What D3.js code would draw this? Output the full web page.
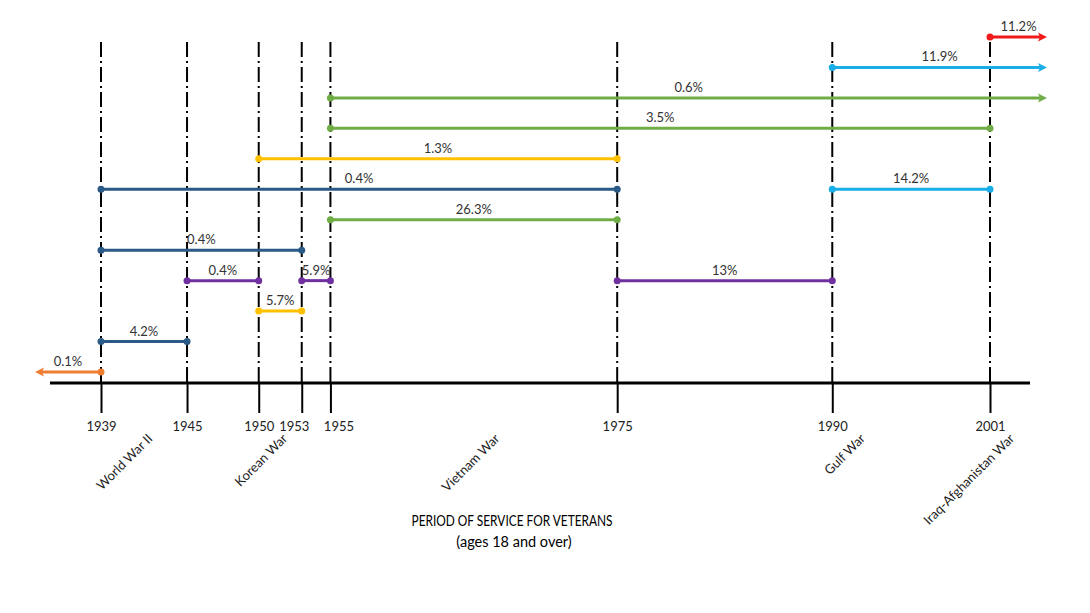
<!DOCTYPE html>
<html>
<head>
<meta charset="utf-8">
<script src="https://cdn.jsdelivr.net/npm/d3@7"></script>
<style>
  html, body { margin: 0; padding: 0; background: #fff; }
  svg { display: block; font-family: Lato, "Open Sans", sans-serif; }
</style>
</head>
<body>
<svg id="chart" width="1090" height="613"></svg>
<script>
// ---------- DATA ----------
const tickYears = [1939, 1945, 1950, 1953, 1955, 1975, 1990, 2001];

const warNames = ["World War II", "Korean War", "Vietnam War", "Gulf War", "Iraq-Afghanistan War"];
const warLabelYears = [1942.2, 1951.6, 1966.4, 1991.9, 2002.3];

// one entry per period segment (null = open-ended)
const segStart = [2001, 1990, 1955, 1955, 1950, 1939, 1990, 1955, 1939, 1945, 1953, 1975, 1950, 1939, null];
const segEnd   = [null, null, null, 2001, 1975, 1975, 2001, 1975, 1953, 1950, 1955, 1990, 1953, 1945, 1939];
const segRow   = [0, 1, 2, 3, 4, 5, 5, 6, 7, 8, 8, 8, 9, 10, 11];
const segShare = ["11.2%", "11.9%", "0.6%", "3.5%", "1.3%", "0.4%", "14.2%", "26.3%", "0.4%", "0.4%", "5.9%", "13%", "5.7%", "4.2%", "0.1%"];
const segEra   = ["Iraq-Afghanistan", "Gulf", "Vietnam", "Vietnam", "Korean", "WWII", "Gulf", "Vietnam", "WWII", "Peacetime", "Peacetime", "Peacetime", "Korean", "WWII", "Pre-WWII"];

const eraNames  = ["Pre-WWII", "WWII", "Peacetime", "Korean", "Vietnam", "Gulf", "Iraq-Afghanistan"];
const eraColors = ["#ED7D31", "#2B5A86", "#7030A0", "#FFC000", "#70AD47", "#1AAEE8", "#F01A1A"];

const title = "PERIOD OF SERVICE FOR VETERANS";
const subtitle = "(ages 18 and over)";

// ---------- LAYOUT ----------
const svg = d3.select("#chart");
const axisY = 383;
const topY = 42;

const x = d3.scaleLinear().domain([1939, 2001]).range([101, 990]);
const rowCount = d3.max(segRow) + 1;
const y = d3.scaleLinear().domain([0, rowCount - 1]).range([37, 372]);
const color = d3.scaleOrdinal().domain(eraNames).range(eraColors);

const openLeft = 35, openRight = 1047;

const segs = segStart.map((s, i) => ({
  start: s, end: segEnd[i], row: segRow[i], label: segShare[i], era: segEra[i]
}));

// vertical dash-dot year guides
const guides = svg.append("g");
guides.selectAll("line.dd").data(tickYears).join("line")
  .attr("class", "dd")
  .attr("x1", d => x(d)).attr("x2", d => x(d))
  .attr("y1", topY).attr("y2", axisY)
  .attr("stroke", "#000").attr("stroke-width", 2)
  .attr("stroke-dasharray", "15,4,2,4");

// horizontal axis
const axisG = svg.append("g").attr("transform", `translate(0,${axisY})`);
const axis = d3.axisBottom(x).tickValues(tickYears).tickFormat(d3.format("d"))
  .tickSize(30).tickPadding(9);
axisG.call(axis);
axisG.select(".domain").remove();
axisG.selectAll(".tick line").attr("stroke", "#000").attr("stroke-width", 2);
axisG.selectAll(".tick text").attr("font-size", 13).attr("fill", "#222")
  .attr("font-family", "Lato, sans-serif")
  .attr("dx", d => d === 1953 ? -8 : d === 1955 ? 8 : 0);
axisG.append("line").attr("x1", 50).attr("x2", 1030).attr("y1", 0).attr("y2", 0)
  .attr("stroke", "#000").attr("stroke-width", 3);

// segments
const segG = svg.append("g");
const xs = d => d.start == null ? openLeft : x(d.start);
const xe = d => d.end == null ? openRight : x(d.end);

segG.selectAll("line.seg").data(segs).join("line")
  .attr("class", "seg")
  .attr("x1", d => xs(d) + (d.start == null ? 4 : 0))
  .attr("x2", d => xe(d) - (d.end == null ? 4 : 0))
  .attr("y1", d => y(d.row)).attr("y2", d => y(d.row))
  .attr("stroke", d => color(d.era)).attr("stroke-width", 3);

// dots at closed ends
const dots = [];
segs.forEach(d => {
  if (d.start != null) dots.push({ v: d.start, row: d.row, era: d.era });
  if (d.end != null) dots.push({ v: d.end, row: d.row, era: d.era });
});
segG.selectAll("circle").data(dots).join("circle")
  .attr("cx", d => x(d.v)).attr("cy", d => y(d.row)).attr("r", 3.5)
  .attr("fill", d => color(d.era));

// arrowheads at open ends
const arrows = [];
segs.forEach(d => {
  if (d.start == null) arrows.push({ dir: -1, row: d.row, era: d.era });
  if (d.end == null) arrows.push({ dir: 1, row: d.row, era: d.era });
});
segG.selectAll("path.arrow").data(arrows).join("path")
  .attr("class", "arrow")
  .attr("d", d => {
    const tx = d.dir > 0 ? openRight : openLeft;
    const yy = y(d.row);
    return `M${tx},${yy} L${tx - d.dir * 9},${yy - 4.5} L${tx - d.dir * 7},${yy} L${tx - d.dir * 9},${yy + 4.5} Z`;
  })
  .attr("fill", d => color(d.era));

// share labels
segG.selectAll("text.share").data(segs).join("text")
  .attr("class", "share")
  .attr("x", d => (xs(d) + xe(d)) / 2)
  .attr("y", d => y(d.row) - 6)
  .attr("text-anchor", "middle")
  .attr("font-size", 13).attr("fill", "#333")
  .text(d => d.label);

// rotated war names
svg.append("g").selectAll("text").data(warNames).join("text")
  .attr("transform", (d, i) => `translate(${x(warLabelYears[i])},${433}) rotate(-45)`)
  .attr("text-anchor", "end")
  .attr("dy", "0.7em")
  .attr("font-size", 13).attr("fill", "#222")
  .text(d => d);

// title
svg.append("text").attr("x", 512).attr("y", 526).attr("text-anchor", "middle")
  .attr("font-size", 15).attr("fill", "#000")
  .attr("textLength", 201).attr("lengthAdjust", "spacingAndGlyphs")
  .text(title);
svg.append("text").attr("x", 514).attr("y", 547).attr("text-anchor", "middle")
  .attr("font-size", 14.5).attr("fill", "#000").text(subtitle);
</script>
</body>
</html>
